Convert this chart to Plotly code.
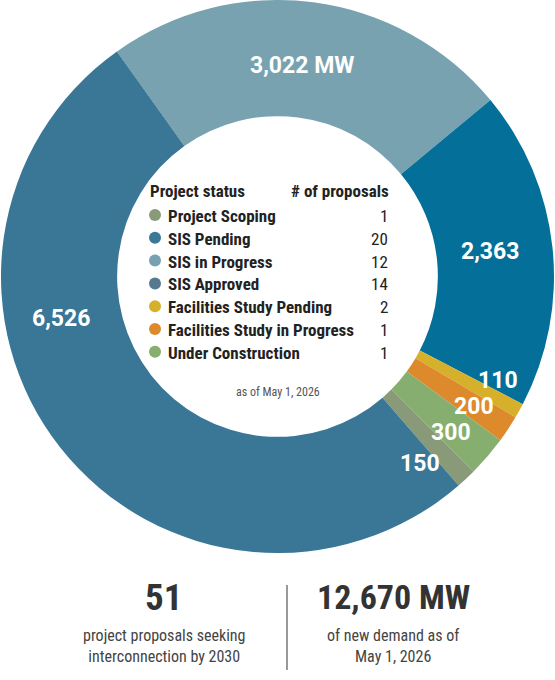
import plotly.graph_objects as go

# ---- data ----
ring_labels = ["SIS in Progress", "SIS Approved", "Facilities Study Pending",
               "Facilities Study in Progress", "Under Construction",
               "Project Scoping", "SIS Pending"]
ring_mw = [3022, 2363, 110, 200, 300, 150, 6526]
ring_colors = ["#78a2b0", "#04709a", "#d6b02b", "#dc8a2c", "#86ae6e", "#899a78", "#3a7696"]
ring_text = ["3,022 MW", "2,363", "110", "200", "300", "150", "6,526"]

legend_status = ["Project Scoping", "SIS Pending", "SIS in Progress", "SIS Approved",
                 "Facilities Study Pending", "Facilities Study in Progress",
                 "Under Construction"]
legend_counts = [1, 20, 12, 14, 2, 1, 1]
legend_colors = ["#899a78", "#3a7898", "#77a1b1", "#557a90", "#d6b02b", "#dc8a2c", "#86ae6e"]

total_proposals = "51"
total_mw = "12,670 MW"
as_of = "as of May 1, 2026"

W, H = 555, 680
FONT = "Liberation Sans Narrow, Roboto Condensed, Roboto, sans-serif"
LABEL_FONT = "Roboto, sans-serif"

def px(x):
    return x / W

def py(y):
    return 1 - y / H

fig = go.Figure()
fig.add_trace(go.Pie(
    labels=ring_labels, values=ring_mw, sort=False, direction="clockwise",
    rotation=-35.5, hole=0.58, textinfo="none", hoverinfo="label+value",
    marker=dict(colors=ring_colors, line=dict(width=0)),
    domain=dict(x=[0, 1], y=[1 - 553 / H, 1]), showlegend=False,
))

ann = []
# ring value labels (positions are label placement only)
label_pos = [(302, 65), (490, 251), (498, 380), (474, 406), (451, 432), (420, 463), (61, 318)]
for t, (x, y) in zip(ring_text, label_pos):
    ann.append(dict(x=px(x), y=py(y), text=t, showarrow=False, xanchor="center", yanchor="middle",
                    font=dict(family=LABEL_FONT, size=23, color="white", weight="bold")))

# legend header
ann.append(dict(x=px(148), y=py(191), text="Project status", showarrow=False, xanchor="left",
                yanchor="middle", font=dict(family=FONT, size=17, color="#222", weight="bold")))
ann.append(dict(x=px(391), y=py(191), text="# of proposals", showarrow=False, xanchor="right",
                yanchor="middle", font=dict(family=FONT, size=17, color="#222", weight="bold")))

shapes = []
row0, dy = 216, 22.8
for i, (s, c, col) in enumerate(zip(legend_status, legend_counts, legend_colors)):
    y = row0 + i * dy
    ann.append(dict(x=px(166), y=py(y), text=s, showarrow=False, xanchor="left", yanchor="middle",
                    font=dict(family=FONT, size=17, color="#222", weight="bold")))
    ann.append(dict(x=px(390), y=py(y), text=str(c), showarrow=False, xanchor="right", yanchor="middle",
                    font=dict(family=FONT, size=17, color="#222")))
    r = 6
    shapes.append(dict(type="circle", xref="paper", yref="paper",
                       x0=px(155 - r), x1=px(155 + r), y0=py(y - 1 + r), y1=py(y - 1 - r),
                       fillcolor=col, line=dict(width=0)))

ann.append(dict(x=px(278), y=py(392), text=as_of, showarrow=False, xanchor="center", yanchor="middle",
                font=dict(family=FONT, size=12, color="#555")))

# bottom summary
ann.append(dict(x=px(163), y=py(597), text=total_proposals, showarrow=False, xanchor="center",
                yanchor="middle", font=dict(family=FONT, size=37, color="#333", weight="bold")))
ann.append(dict(x=px(164), y=py(646), text="project proposals seeking<br>interconnection by 2030",
                showarrow=False, xanchor="center", yanchor="middle",
                font=dict(family=FONT, size=16, color="#444")))
ann.append(dict(x=px(393), y=py(597), text=total_mw, showarrow=False, xanchor="center",
                yanchor="middle", font=dict(family=FONT, size=34, color="#333", weight="bold")))
ann.append(dict(x=px(393), y=py(646), text="of new demand as of<br>May 1, 2026",
                showarrow=False, xanchor="center", yanchor="middle",
                font=dict(family=FONT, size=16, color="#444")))
shapes.append(dict(type="line", xref="paper", yref="paper", x0=px(287), x1=px(287),
                   y0=py(585), y1=py(670), line=dict(color="#999", width=2)))

fig.update_layout(width=W, height=H, margin=dict(l=0, r=0, t=0, b=0),
                  paper_bgcolor="white", plot_bgcolor="white",
                  annotations=ann, shapes=shapes, font=dict(family=FONT))
fig.write_html("out.html", config={"displayModeBar": False},
               post_script="document.body.style.margin='0';document.body.style.overflow='hidden';")
